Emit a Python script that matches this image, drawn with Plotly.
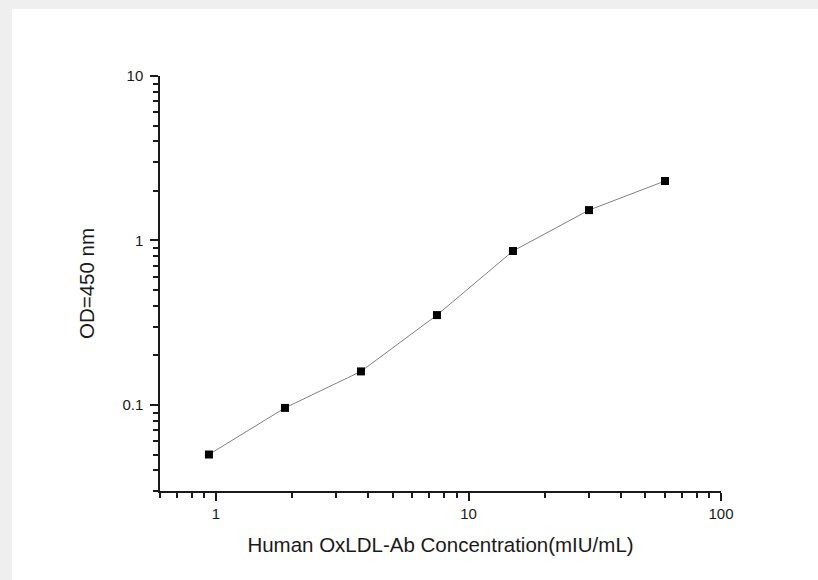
import plotly.graph_objects as go
import math

concentration = [0.9375, 1.875, 3.75, 7.5, 15, 30, 60]
od450 = [0.050, 0.096, 0.160, 0.352, 0.863, 1.53, 2.30]

x_title = "Human OxLDL-Ab Concentration(mIU/mL)"
y_title = "OD=450 nm"

FONT = "Liberation Sans, Arial"

fig = go.Figure()
fig.add_trace(go.Scatter(
    x=concentration, y=od450, mode="lines+markers",
    line=dict(color="#808080", width=1),
    marker=dict(symbol="square", size=8, color="black"),
    showlegend=False,
))

W, H = 818, 580
ml, mr, mt, mb = 160, 97, 76, 89
pw, ph = W - ml - mr, H - mt - mb

def px_x(p):
    return (p - ml) / pw

def px_y(p):
    return (H - mb - p) / ph

fig.add_shape(type="rect", xref="paper", yref="paper",
              x0=px_x(12), x1=px_x(W + 5), y0=px_y(H + 5), y1=px_y(9),
              fillcolor="white", line=dict(width=0), layer="below")

axis_common = dict(
    type="log", showgrid=False, zeroline=False, showline=True,
    linecolor="#1a1a1a", linewidth=1.5, ticks="outside", ticklen=8,
    tickwidth=1.5, tickcolor="#1a1a1a", dtick=1, mirror=False,
    tickfont=dict(family=FONT, size=15, color="#1a1a1a"),
    minor=dict(ticks="outside", ticklen=5, tickwidth=1.5, tickcolor="#1a1a1a",
               dtick="D1", showgrid=False),
)

fig.update_xaxes(range=[math.log10(0.6), 2],
                 title=dict(text=x_title, standoff=17,
                            font=dict(family=FONT, size=20.5, color="#1a1a1a")),
                 **axis_common)
fig.update_yaxes(range=[math.log10(0.03), 1], ticklabelstandoff=4,
                 title=dict(text=y_title, standoff=22,
                            font=dict(family=FONT, size=20.5, color="#1a1a1a")),
                 **axis_common)

fig.update_layout(
    width=W, height=H,
    margin=dict(l=ml, r=mr, t=mt, b=mb),
    paper_bgcolor="#efefef", plot_bgcolor="white",
)

fig.write_html("out.html", config={"displayModeBar": False},
               post_script="document.body.style.margin='0px';document.body.style.overflow='hidden';")
